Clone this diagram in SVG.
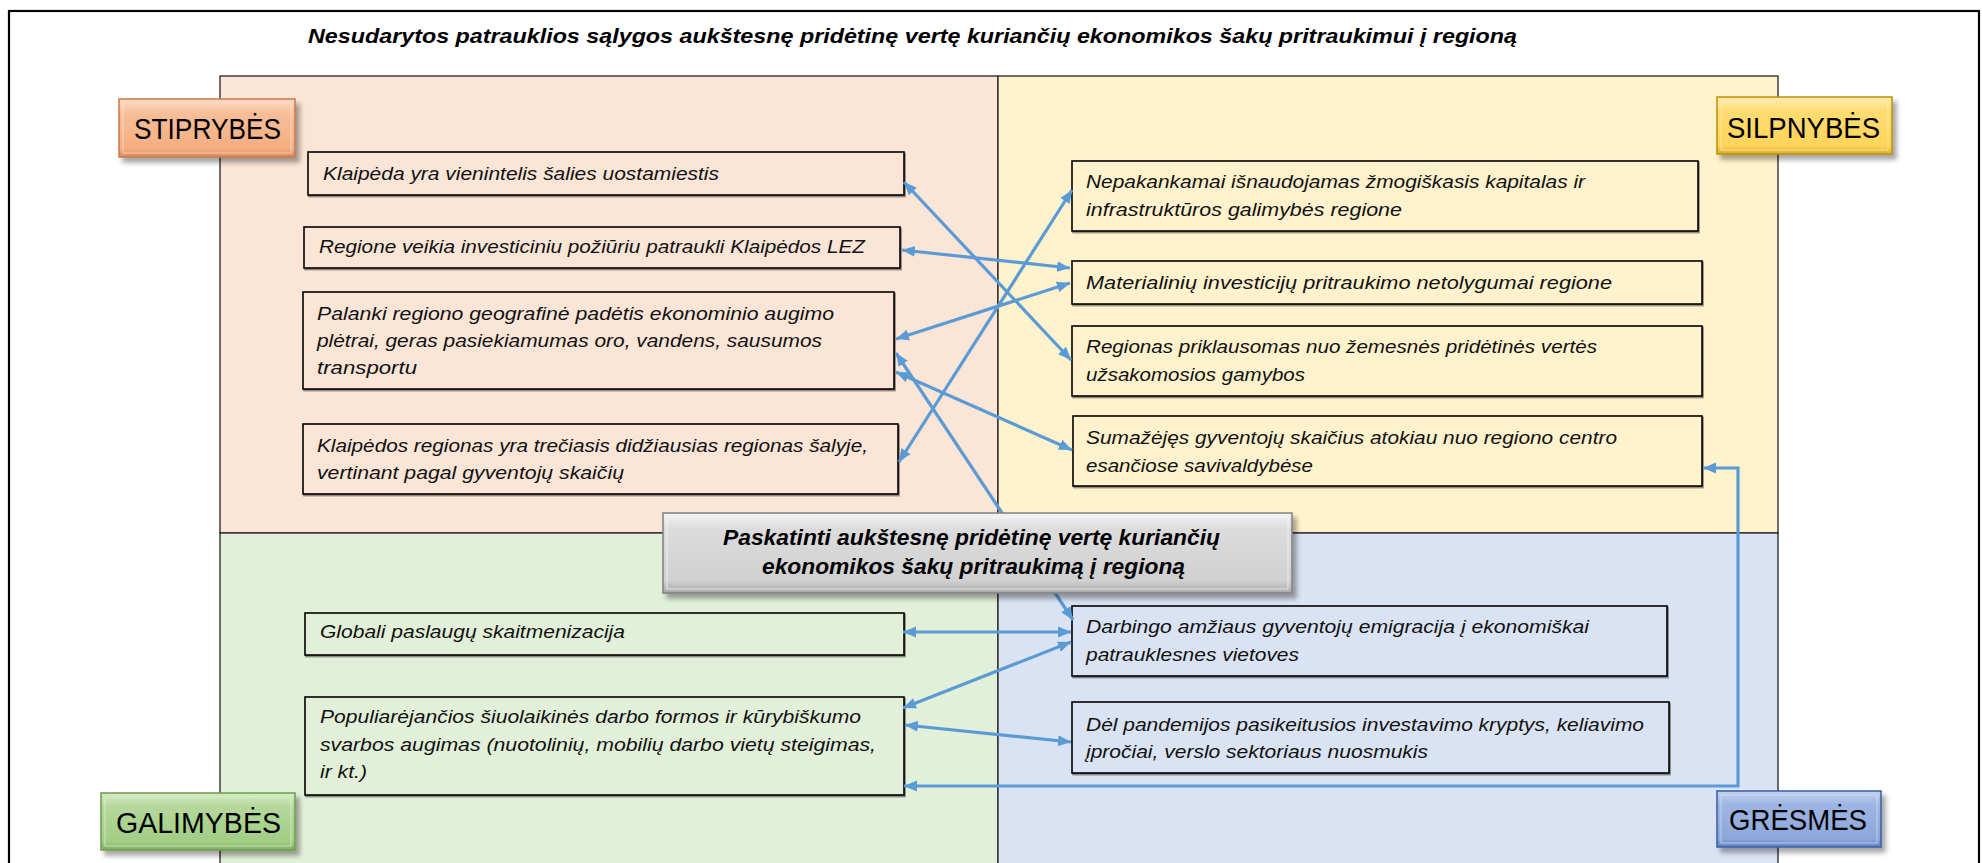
<svg xmlns="http://www.w3.org/2000/svg" width="1982" height="863" viewBox="0 0 1982 863">
<defs>
<style>
.t{font-family:'Liberation Sans',Arial,sans-serif;font-style:italic;font-size:18.5px;fill:#111}
.title{font-family:'Liberation Sans',Arial,sans-serif;font-style:italic;font-weight:bold;font-size:20px;fill:#000}
.ctr{font-family:'Liberation Sans',Arial,sans-serif;font-style:italic;font-weight:bold;font-size:22px;fill:#000}
.lbl{font-family:'Liberation Sans',Arial,sans-serif;font-size:30px;fill:#000}
.box{stroke:#000;stroke-width:1.6;filter:url(#bs)}
.q{stroke:#222;stroke-width:1.3}
.c{fill:none;stroke:#5B9BD5;stroke-width:3.2;marker-start:url(#ah);marker-end:url(#ah)}
</style>
<marker id="ah" markerUnits="userSpaceOnUse" markerWidth="14" markerHeight="12" refX="13" refY="6" orient="auto-start-reverse">
<path d="M0,0.5 L13,6 L0,11.5 z" fill="#5B9BD5"/>
</marker>
<filter id="sh" x="-10%" y="-10%" width="130%" height="140%">
<feDropShadow dx="4" dy="5" stdDeviation="2.5" flood-color="#000" flood-opacity="0.35"/>
</filter>
<filter id="bs" x="-5%" y="-10%" width="110%" height="130%">
<feDropShadow dx="1" dy="1.5" stdDeviation="0.6" flood-color="#000" flood-opacity="0.45"/>
</filter>
<linearGradient id="gO" x1="0" y1="0" x2="0" y2="1">
<stop offset="0" stop-color="#FBD9C2"/><stop offset="0.25" stop-color="#F7BE98"/><stop offset="0.85" stop-color="#F4AE80"/><stop offset="1" stop-color="#D9895A"/>
</linearGradient>
<linearGradient id="gY" x1="0" y1="0" x2="0" y2="1">
<stop offset="0" stop-color="#FFECB0"/><stop offset="0.25" stop-color="#FFDC72"/><stop offset="0.85" stop-color="#FFD45A"/><stop offset="1" stop-color="#D9AE2E"/>
</linearGradient>
<linearGradient id="gG" x1="0" y1="0" x2="0" y2="1">
<stop offset="0" stop-color="#D3EAC3"/><stop offset="0.25" stop-color="#B4D89B"/><stop offset="0.85" stop-color="#A2CD85"/><stop offset="1" stop-color="#7FAE60"/>
</linearGradient>
<linearGradient id="gB" x1="0" y1="0" x2="0" y2="1">
<stop offset="0" stop-color="#C2D2EE"/><stop offset="0.25" stop-color="#9DB5E2"/><stop offset="0.85" stop-color="#8CA7DA"/><stop offset="1" stop-color="#6583BF"/>
</linearGradient>
<linearGradient id="gC" x1="0" y1="0" x2="0" y2="1">
<stop offset="0" stop-color="#F4F4F4"/><stop offset="0.2" stop-color="#DCDCDC"/><stop offset="0.85" stop-color="#D0D0D0"/><stop offset="1" stop-color="#A8A8A8"/>
</linearGradient>
</defs>

<rect x="0" y="0" width="1982" height="863" fill="#fff"/>
<rect id="frame" x="9" y="11" width="1970" height="880" fill="none" stroke="#000" stroke-width="2.2"/>

<text class="title" x="308" y="43" textLength="1209" lengthAdjust="spacingAndGlyphs">Nesudarytos patrauklios sąlygos aukštesnę pridėtinę vertę kuriančių ekonomikos šakų pritraukimui į regioną</text>

<g id="quadrants">
<rect class="q" x="220" y="76" width="778" height="457" fill="#FBE5D6"/>
<rect class="q" x="998" y="76" width="780" height="457" fill="#FFF2CC"/>
<rect class="q" x="220" y="533" width="778" height="360" fill="#E2F0D9"/>
<rect class="q" x="998" y="533" width="780" height="360" fill="#DAE3F3"/>
</g>

<g id="label-stiprybes">
<rect x="119" y="99" width="176" height="58" fill="url(#gO)" stroke="#C47A4C" stroke-width="1.5" filter="url(#sh)"/>
<rect x="123" y="103" width="168" height="50" fill="none" stroke="#FCE3D2" stroke-width="1" opacity="0.7"/>
<text class="lbl" x="134" y="139" textLength="147" lengthAdjust="spacingAndGlyphs">STIPRYBĖS</text>
</g>
<g id="label-silpnybes">
<rect x="1717" y="97" width="175" height="57" fill="url(#gY)" stroke="#BF9000" stroke-width="1.5" filter="url(#sh)"/>
<rect x="1721" y="101" width="167" height="49" fill="none" stroke="#FFF0C4" stroke-width="1" opacity="0.7"/>
<text class="lbl" x="1727" y="138" textLength="153" lengthAdjust="spacingAndGlyphs">SILPNYBĖS</text>
</g>
<g id="label-galimybes">
<rect x="101" y="793" width="194" height="57" fill="url(#gG)" stroke="#6F9C4E" stroke-width="1.5" filter="url(#sh)"/>
<rect x="105" y="797" width="186" height="49" fill="none" stroke="#E2F2D6" stroke-width="1" opacity="0.7"/>
<text class="lbl" x="116" y="833" textLength="165" lengthAdjust="spacingAndGlyphs">GALIMYBĖS</text>
</g>
<g id="label-gresmes">
<rect x="1717" y="791" width="164" height="56" fill="url(#gB)" stroke="#3B5DA0" stroke-width="1.5" filter="url(#sh)"/>
<rect x="1721" y="795" width="156" height="48" fill="none" stroke="#D6E1F5" stroke-width="1" opacity="0.7"/>
<text class="lbl" x="1729" y="830" textLength="138" lengthAdjust="spacingAndGlyphs">GRĖSMĖS</text>
</g>

<g id="s1"><rect class="box" x="308" y="152" width="596" height="43" fill="#FBE5D6"/>
<text class="t" x="323" y="180" textLength="396" lengthAdjust="spacingAndGlyphs">Klaipėda yra vienintelis šalies uostamiestis</text></g>
<g id="s2"><rect class="box" x="304" y="227" width="596" height="41" fill="#FBE5D6"/>
<text class="t" x="319" y="253" textLength="546" lengthAdjust="spacingAndGlyphs">Regione veikia investiciniu požiūriu patraukli Klaipėdos LEZ</text></g>
<g id="s3"><rect class="box" x="303" y="292" width="591" height="97" fill="#FBE5D6"/>
<text class="t" x="317" y="320" textLength="517" lengthAdjust="spacingAndGlyphs">Palanki regiono geografinė padėtis ekonominio augimo</text>
<text class="t" x="317" y="347" textLength="505" lengthAdjust="spacingAndGlyphs">plėtrai, geras pasiekiamumas oro, vandens, sausumos</text>
<text class="t" x="317" y="374" textLength="100" lengthAdjust="spacingAndGlyphs">transportu</text></g>
<g id="s4"><rect class="box" x="303" y="424" width="595" height="70" fill="#FBE5D6"/>
<text class="t" x="317" y="452" textLength="551" lengthAdjust="spacingAndGlyphs">Klaipėdos regionas yra trečiasis didžiausias regionas šalyje,</text>
<text class="t" x="317" y="479" textLength="307" lengthAdjust="spacingAndGlyphs">vertinant pagal gyventojų skaičių</text></g>

<g id="w1"><rect class="box" x="1072" y="161" width="626" height="70" fill="#FFF2CC"/>
<text class="t" x="1086" y="188" textLength="499" lengthAdjust="spacingAndGlyphs">Nepakankamai išnaudojamas žmogiškasis kapitalas ir</text>
<text class="t" x="1086" y="216" textLength="316" lengthAdjust="spacingAndGlyphs">infrastruktūros galimybės regione</text></g>
<g id="w2"><rect class="box" x="1072" y="261" width="630" height="43" fill="#FFF2CC"/>
<text class="t" x="1086" y="289" textLength="526" lengthAdjust="spacingAndGlyphs">Materialinių investicijų pritraukimo netolygumai regione</text></g>
<g id="w3"><rect class="box" x="1072" y="326" width="630" height="70" fill="#FFF2CC"/>
<text class="t" x="1086" y="353" textLength="511" lengthAdjust="spacingAndGlyphs">Regionas priklausomas nuo žemesnės pridėtinės vertės</text>
<text class="t" x="1086" y="381" textLength="219" lengthAdjust="spacingAndGlyphs">užsakomosios gamybos</text></g>
<g id="w4"><rect class="box" x="1073" y="416" width="629" height="70" fill="#FFF2CC"/>
<text class="t" x="1086" y="444" textLength="531" lengthAdjust="spacingAndGlyphs">Sumažėjęs gyventojų skaičius atokiau nuo regiono centro</text>
<text class="t" x="1086" y="472" textLength="227" lengthAdjust="spacingAndGlyphs">esančiose savivaldybėse</text></g>

<g id="o1"><rect class="box" x="305" y="613" width="599" height="42" fill="#E2F0D9"/>
<text class="t" x="320" y="638" textLength="305" lengthAdjust="spacingAndGlyphs">Globali paslaugų skaitmenizacija</text></g>
<g id="o2"><rect class="box" x="305" y="697" width="599" height="98" fill="#E2F0D9"/>
<text class="t" x="320" y="723" textLength="541" lengthAdjust="spacingAndGlyphs">Populiarėjančios šiuolaikinės darbo formos ir kūrybiškumo</text>
<text class="t" x="320" y="751" textLength="556" lengthAdjust="spacingAndGlyphs">svarbos augimas (nuotolinių, mobilių darbo vietų steigimas,</text>
<text class="t" x="320" y="778" textLength="47" lengthAdjust="spacingAndGlyphs">ir kt.)</text></g>

<g id="g1"><rect class="box" x="1072" y="606" width="595" height="70" fill="#DAE3F3"/>
<text class="t" x="1086" y="633" textLength="503" lengthAdjust="spacingAndGlyphs">Darbingo amžiaus gyventojų emigracija į ekonomiškai</text>
<text class="t" x="1086" y="661" textLength="213" lengthAdjust="spacingAndGlyphs">patrauklesnes vietoves</text></g>
<g id="g2"><rect class="box" x="1072" y="702" width="597" height="71" fill="#DAE3F3"/>
<text class="t" x="1086" y="731" textLength="558" lengthAdjust="spacingAndGlyphs">Dėl pandemijos pasikeitusios investavimo kryptys, keliavimo</text>
<text class="t" x="1086" y="758" textLength="342" lengthAdjust="spacingAndGlyphs">įpročiai, verslo sektoriaus nuosmukis</text></g>

<g id="connectors">
<path class="c" d="M904,182 L1071,360"/>
<path class="c" d="M902,250 L1070,268"/>
<path class="c" d="M896,339 L1070,283"/>
<path class="c" d="M1072,190 L899,462"/>
<path class="c" d="M896,353 L1073,620"/>
<path class="c" d="M896,372 L1072,450"/>
<path class="c" d="M903,632 L1071,632"/>
<path class="c" d="M903,708 L1071,642"/>
<path class="c" d="M905,725 L1071,742"/>
<path class="c" d="M1703,468 L1738,468 L1738,786 L904,786"/>
</g>

<g id="center">
<rect x="663" y="513" width="629" height="80" fill="url(#gC)" stroke="#808080" stroke-width="1.5" filter="url(#sh)"/>
<rect x="667" y="517" width="621" height="72" fill="none" stroke="#FAFAFA" stroke-width="1" opacity="0.7"/>
<text class="ctr" x="723" y="545" textLength="497" lengthAdjust="spacingAndGlyphs">Paskatinti aukštesnę pridėtinę vertę kuriančių</text>
<text class="ctr" x="762" y="574" textLength="423" lengthAdjust="spacingAndGlyphs">ekonomikos šakų pritraukimą į regioną</text>
</g>
</svg>
